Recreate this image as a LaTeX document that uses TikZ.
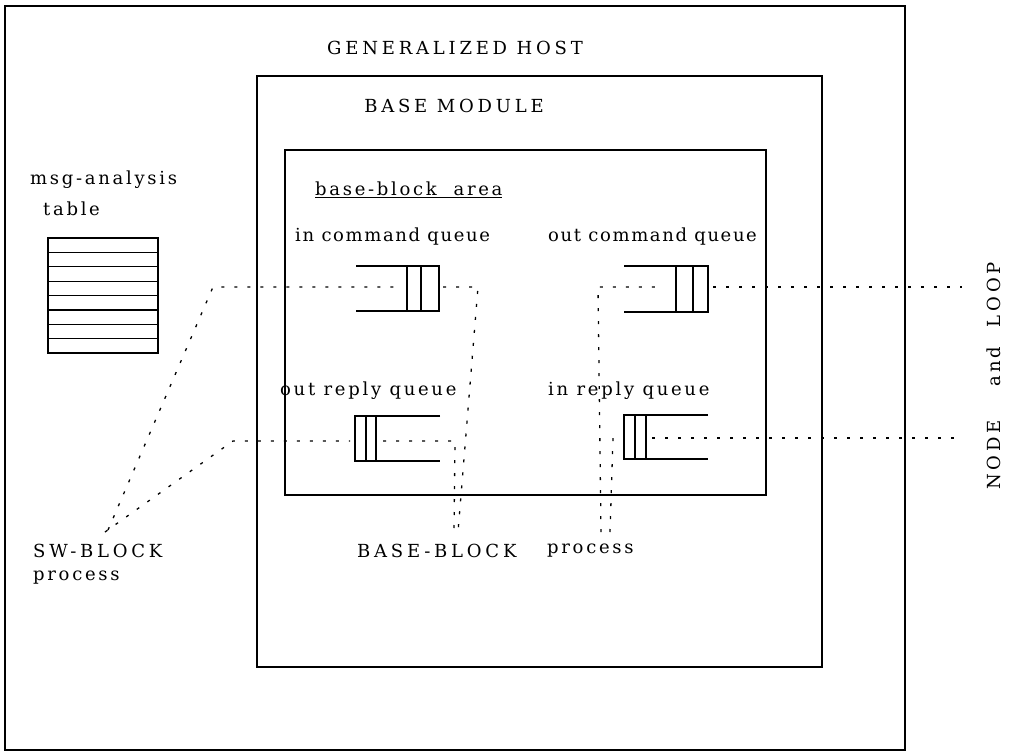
\documentclass[tikz,border=0pt]{standalone}
\usepackage{fontspec}
\setmainfont{DejaVu Serif}
\newfontfamily\lowfont[LetterSpace=15]{DejaVu Serif}
\newfontfamily\midfont[LetterSpace=9]{DejaVu Serif}
\newfontfamily\capfont[LetterSpace=21]{DejaVu Serif}
\begin{document}
\begin{tikzpicture}[x=1pt,y=-1pt,
  frame/.style={draw,line width=1.4pt},
  qline/.style={draw,line width=1.8pt},
  slot/.style={draw,line width=1.4pt},
  dotline/.style={line width=1.3pt, dash pattern=on 3pt off 10pt},
  lbl/.style={font=\lowfont\fontsize{18}{22}\selectfont, inner sep=0pt},
  mlbl/.style={font=\midfont\fontsize{18}{22}\selectfont, inner sep=0pt},
  clbl/.style={font=\capfont\fontsize{18}{22}\selectfont, inner sep=0pt},
]
\useasboundingbox (0,0) rectangle (1012,753);
% boxes
\draw[frame] (5,6) rectangle (905,750);
\draw[frame] (257,76) rectangle (822,667);
\draw[frame] (285,150) rectangle (766,495);
% labels
\node[clbl] (host) at (455,48) {GENERALIZED HOST};
\node[clbl] (bm) at (454,106) {BASE MODULE};
\node[lbl,anchor=west] (bba) at (315,190) {\underline{base-block\ \ area}};
\node[mlbl,anchor=west] (icq) at (295,237) {in command queue};
\node[mlbl,anchor=west] (ocq) at (548,237) {out command queue};
\node[lbl,anchor=west] (orq) at (280,391) {out reply queue};
\node[lbl,anchor=west] (irq) at (548,391) {in reply queue};
\node[lbl,anchor=west] (msg) at (30,180) {msg-analysis};
\node[lbl,anchor=west] (tbl) at (43,209) {table};
\node[clbl,anchor=west] (sw) at (33,551) {SW-BLOCK};
\node[lbl,anchor=west] (swp) at (33,578) {process};
\node[clbl,anchor=west] (bb) at (357,551) {BASE-BLOCK};
\node[lbl,anchor=west] (bbp) at (547,551) {process};
\node[clbl,rotate=90] (nl) at (994,376) {NODE\hspace{1.9em}{\lowfont and}\hspace{1.1em}LOOP};
% msg-analysis table
\draw[frame] (48,238) rectangle (158,353);
\foreach \yy in {252.4,266.8,281.2,295.6,310,324.4,338.8}
  \draw[line width=1.2pt] (48,\yy) -- (158,\yy);
% in command queue
\draw[qline] (356,266) -- (439,266) -- (439,311) -- (356,311);
\draw[slot] (407,266) -- (407,311);
\draw[slot] (421,266) -- (421,311);
% out command queue
\draw[qline] (624,266) -- (708,266) -- (708,312) -- (624,312);
\draw[slot] (676,266) -- (676,312);
\draw[slot] (693,266) -- (693,312);
% out reply queue
\draw[qline] (440,416) -- (355,416) -- (355,461) -- (440,461);
\draw[slot] (366,416) -- (366,461);
\draw[slot] (376,416) -- (376,461);
% in reply queue
\draw[qline] (708,415) -- (624,415) -- (624,459) -- (708,459);
\draw[slot] (635,415) -- (635,459);
\draw[slot] (646,415) -- (646,459);
% connector points
\coordinate (swA) at (108,530);
\coordinate (swB) at (105,532);
\coordinate (bbA) at (458,532);
\coordinate (bbB) at (454,532);
\coordinate (bpA) at (601,532);
\coordinate (bpB) at (610,532);
% dotted connectors
\draw[dotline] (swA) -- (213,287) -- (402,287);
\draw[dotline] (443,287) -- (478,287) -- (bbA);
\draw[dotline] (swB) -- (233,441) -- (350,441);
\draw[dotline] (383,441) -- (455,441) -- (bbB);
\draw[dotline] (bpA) -- (598,287) -- (664,287);
\draw[dotline] (713,287) -- (962,287);
\draw[dotline] (bpB) -- (613,438);
\draw[dotline] (652,438) -- (962,438);
\end{tikzpicture}
\end{document}
